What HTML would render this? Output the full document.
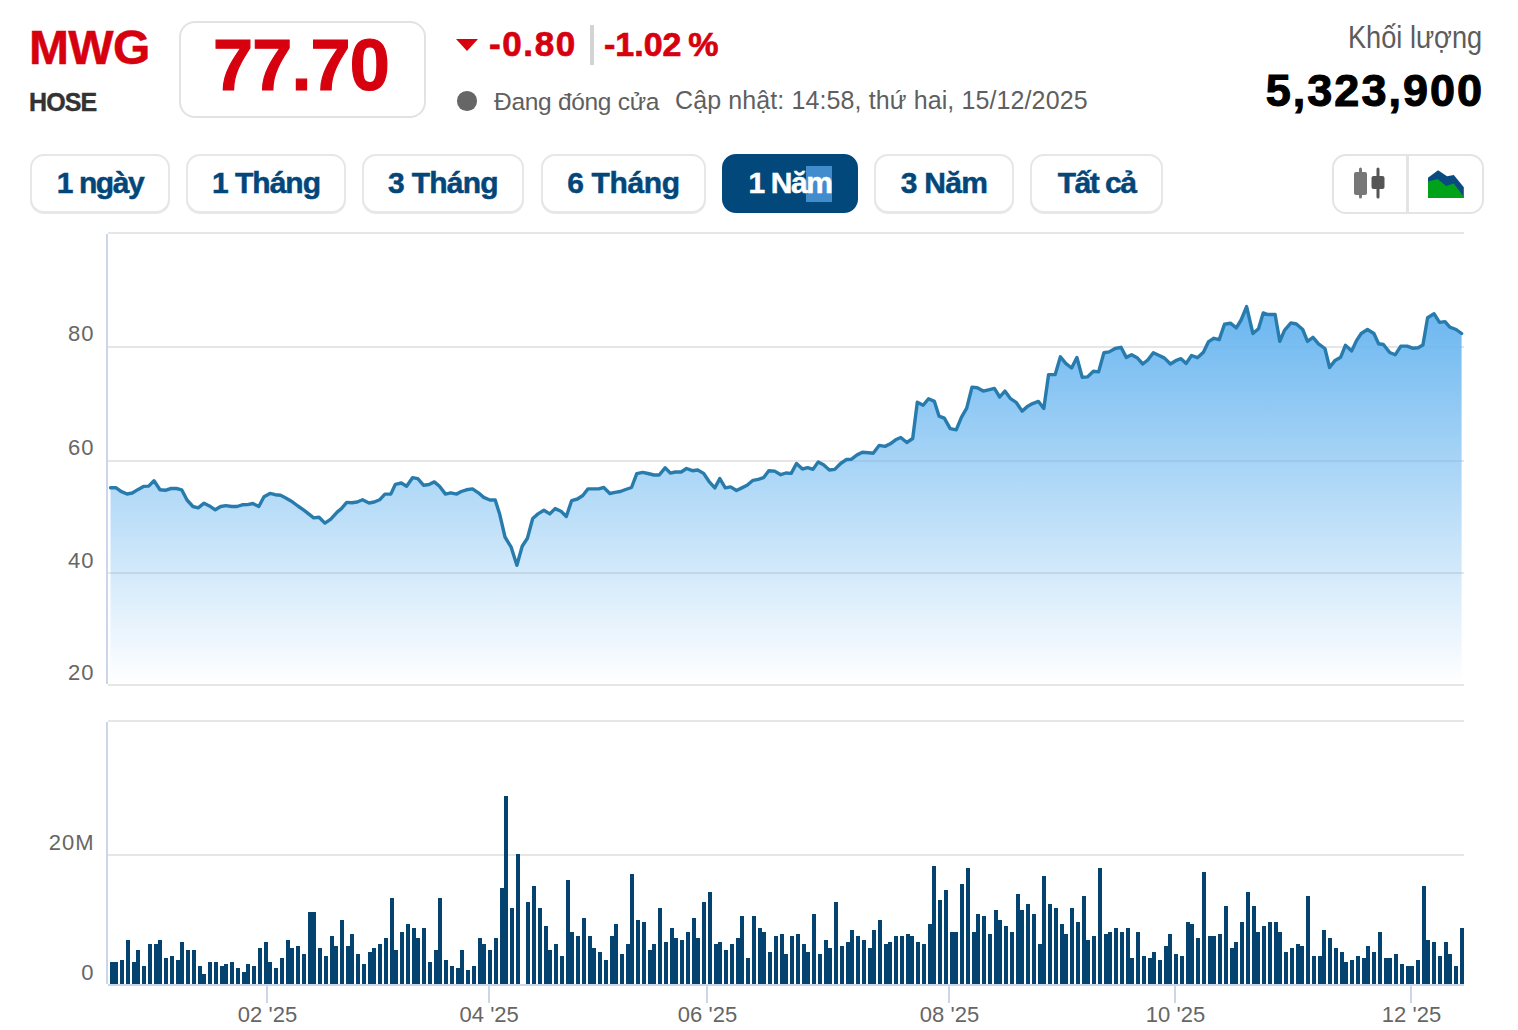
<!DOCTYPE html>
<html lang="vi"><head><meta charset="utf-8"><title>MWG</title>
<style>
*{box-sizing:border-box;margin:0;padding:0}
html,body{width:1518px;height:1030px;background:#fff;overflow:hidden}
body{position:relative;font-family:"Liberation Sans",Arial,sans-serif}
.abs{position:absolute;white-space:nowrap}
.chart{position:absolute;left:0;top:0}
#sym{left:29px;top:18px;font-size:48px;font-weight:700;color:#d6000f;line-height:60px;letter-spacing:-0.7px;-webkit-text-stroke:0.5px #d6000f}
#exch{left:29px;top:86px;font-size:25px;font-weight:700;color:#333;line-height:32px;letter-spacing:-0.9px;-webkit-text-stroke:0.4px #333}
#pbox{left:179px;top:21px;width:247px;height:97px;border:2px solid #e2e2e2;border-radius:16px}
#price{left:177.5px;top:17px;width:247px;height:97px;text-align:center;font-size:72px;font-weight:700;color:#d6000f;line-height:97px;letter-spacing:-0.8px;-webkit-text-stroke:1.2px #d6000f}
#tri{left:456px;top:39px;width:0;height:0;border-left:11px solid transparent;border-right:11px solid transparent;border-top:12.5px solid #d6000f}
#chg{left:489px;top:24px;font-size:35px;font-weight:700;color:#d6000f;line-height:40px;letter-spacing:1.6px;-webkit-text-stroke:0.7px #d6000f}
#sep{left:590px;top:25px;width:4px;height:40px;background:#d4d4d4}
#pct{left:604px;top:24px;font-size:34px;font-weight:700;color:#d6000f;line-height:40px;-webkit-text-stroke:0.7px #d6000f}
#dot{left:457px;top:91px;width:19.5px;height:19.5px;border-radius:50%;background:#666}
#st{left:494px;top:85.5px;font-size:24.5px;color:#5f5f5f;line-height:32px;letter-spacing:-0.3px}
#upd{left:675px;top:84px;font-size:25px;color:#5f5f5f;line-height:32px;letter-spacing:0.11px}
#kl{right:36px;top:19.5px;font-size:31px;color:#5c5c5c;line-height:36px;transform:scaleX(0.876);transform-origin:right center}
#vol{right:34px;top:65px;font-size:45px;font-weight:700;color:#000;line-height:52px;letter-spacing:2px;-webkit-text-stroke:1.1px #000}
.btn{position:absolute;top:154px;height:58.5px;border:2px solid #e7e7e7;border-radius:14px;background:#fff;box-shadow:0 1px 0 #e9e9e9;font-size:30px;font-weight:700;color:#03477a;text-align:center;line-height:54px;white-space:nowrap;-webkit-text-stroke:0.5px currentColor}
.btn.on{background:#03487b;border-color:#03487b;color:#fff;box-shadow:none}
.selbg{position:absolute;left:82px;top:10px;width:26px;height:36px;background:#408ccd}
#grp{position:absolute;left:1332px;top:154px;width:152px;height:60px;border:2px solid #e4e4e4;border-radius:14px}
#gsep{position:absolute;left:1406px;top:155px;width:3px;height:58px;background:#e4e4e4}
</style></head><body>
<svg class="chart" width="1518" height="1030" viewBox="0 0 1518 1030">
<defs>
<linearGradient id="ag" x1="0" y1="306" x2="0" y2="685" gradientUnits="userSpaceOnUse">
<stop offset="0" stop-color="#6ab6f0" stop-opacity="1"/>
<stop offset="1" stop-color="#6ab6f0" stop-opacity="0"/>
</linearGradient>
</defs>
<g shape-rendering="crispEdges">
<rect x="108" y="232" width="1356" height="2" fill="#e6e6e6"/>
<rect x="108" y="346" width="1356" height="2" fill="#e6e6e6"/>
<rect x="108" y="460" width="1356" height="2" fill="#e6e6e6"/>
<rect x="108" y="572" width="1356" height="2" fill="#e6e6e6"/>
<rect x="108" y="684" width="1356" height="2" fill="#e6e6e6"/>
<rect x="106" y="234" width="2" height="450" fill="#ccd6eb"/>
<rect x="108" y="720" width="1356" height="2" fill="#e6e6e6"/>
<rect x="108" y="854" width="1356" height="2" fill="#e6e6e6"/>
<rect x="106" y="722" width="2" height="262" fill="#ccd6eb"/>
<rect x="108" y="984" width="1356" height="2" fill="#ccd6eb"/>
<rect x="266" y="986" width="2" height="17" fill="#ccd6eb"/>
<rect x="488" y="986" width="2" height="17" fill="#ccd6eb"/>
<rect x="706" y="986" width="2" height="17" fill="#ccd6eb"/>
<rect x="948" y="986" width="2" height="17" fill="#ccd6eb"/>
<rect x="1174" y="986" width="2" height="17" fill="#ccd6eb"/>
<rect x="1410" y="986" width="2" height="17" fill="#ccd6eb"/>
</g>
<path d="M110.5,685 L110.5,487.7 L115.8,487.7 L121,491.4 L127,494 L132.3,493 L138.2,489.4 L143.5,486.4 L148.7,486.1 L154,480.8 L160,489.8 L165.2,490.3 L171.1,488.5 L176.4,488.5 L181.7,489.8 L187,500 L192.9,506.5 L198.2,507.9 L204.1,503.2 L209.4,505.9 L215.3,509.8 L220.6,506.5 L225.8,505.6 L231.8,506.5 L237,506.5 L242.3,504.8 L247.6,504.6 L252.8,503.5 L258.8,506.5 L264,496.7 L270,493.4 L275.2,494.7 L280.5,495.3 L285.8,498 L291,500.9 L297.9,506 L304.5,510.6 L313.7,517.9 L319,517.2 L324.9,523.1 L330.8,519.2 L337.4,511.9 L341.4,508.6 L346.7,502.4 L351.9,502.7 L357.2,502 L362.5,499.8 L369,503 L374.3,502 L379.6,499.8 L384.9,494.1 L390.8,494.1 L395.4,484.3 L401.3,483 L406.6,486.2 L412.5,477.7 L417.8,478.7 L423.7,485.3 L429,484.5 L434.3,481.9 L439.5,486.2 L445.5,494.1 L450.7,492.8 L456.7,494.1 L461.3,491.5 L466.5,489.8 L472.5,488.9 L478.4,492.8 L483.7,497.4 L489.9,500 L495.2,500 L499.8,514.6 L505,537 L511,546.8 L516.9,565.3 L522.2,546.2 L527.4,538.3 L532.7,518.5 L538,513.9 L543.9,510.3 L549.8,513.9 L555.1,508.6 L561,511.3 L566.3,516.5 L571.6,500.7 L577.5,499 L582.8,495.5 L588,488.9 L593.3,488.9 L598.6,488.9 L603.8,487.5 L609.8,493.5 L615,492.4 L620.3,491.5 L625.6,489.5 L631.5,487.5 L636.8,473.7 L642.7,472.4 L648,473.5 L653.9,475 L659.2,475 L665.1,467.8 L670.4,473.1 L675.3,472 L681.2,472 L686.5,468.5 L692.4,470.7 L697.7,470 L703.6,473.4 L708.9,481.3 L714.8,487.9 L719.8,478.6 L725.3,487.9 L730.6,486.9 L736.5,490.5 L741.8,487.9 L747.1,485.2 L753,480.3 L758.3,479.3 L763.5,477.7 L768.8,470.7 L774.7,471.1 L780.7,474.7 L785.9,473 L791.2,473.4 L796.5,463.5 L802.4,469 L807.7,467.7 L813,469.4 L818.2,461.9 L823.5,464.8 L829.4,470 L834.7,469.4 L840.6,463.5 L846.5,459.5 L851.2,459.3 L857.1,454.9 L862.4,452.3 L868.6,452.7 L873.2,453.3 L879.1,445.4 L885,446.4 L890.3,443.8 L895.6,439.8 L900.8,437.5 L906.8,442.5 L912.7,438.5 L917.3,402.3 L923.2,405.3 L928.5,398.7 L934.4,401.4 L939,416.1 L944.3,418.1 L950.2,428.6 L956.2,429.9 L961.4,417.4 L966.7,408.2 L972,387.1 L977.3,387.8 L983.2,391.1 L988.5,389.8 L994.4,388.4 L999.7,397 L1004.9,391.1 L1010.2,398.3 L1016.1,402.3 L1022.1,411.1 L1027.3,406.6 L1032.6,403.6 L1038.5,401.4 L1043.8,408.5 L1048.6,374.6 L1055.2,374.6 L1060.4,356.8 L1065.7,363.4 L1071.6,368 L1076.9,357.4 L1082.2,377.2 L1087.4,376.9 L1093.4,371.3 L1098.6,371.9 L1103.9,352.8 L1109.2,351.9 L1115.1,348.5 L1121,347.3 L1126.3,357.4 L1131.6,354.8 L1137.5,358.1 L1142.8,364 L1148,359.8 L1153.3,352.8 L1159.2,355.5 L1164.5,358.1 L1170.4,364 L1175.7,360.7 L1181,358.7 L1186.2,363.4 L1191.5,355.5 L1197.4,357.7 L1203.4,352.2 L1208.6,341.6 L1213.9,338.3 L1219.2,339.6 L1224.5,324.2 L1230.4,323.2 L1236.3,327.9 L1241.1,320 L1246.6,306.6 L1252.9,333.5 L1258.5,328.7 L1263.2,312.9 L1267.9,314.5 L1275.1,314.5 L1279.8,341.4 L1284.5,330.3 L1290.9,322.9 L1296.4,324 L1302.7,329.5 L1307.5,341.4 L1313,337.4 L1318.5,343.8 L1324.9,348.5 L1329.6,367.5 L1335.1,360.4 L1340.7,357.2 L1345.4,345.3 L1351.7,350.9 L1356.5,340.6 L1361.2,333.5 L1367.5,329.5 L1373.9,333.5 L1378.6,343.8 L1383.4,344.5 L1389.7,352.5 L1395.2,354.8 L1400.8,346.1 L1407.1,346.1 L1412.6,348.2 L1418.1,347.7 L1422.9,345 L1427.6,317.7 L1434,313.7 L1439.5,322.4 L1445,321.6 L1449.8,327.2 L1456.1,329.5 L1461.6,333.5 L1461.6,685 Z" fill="url(#ag)"/>
<polyline points="110.5,487.7 115.8,487.7 121,491.4 127,494 132.3,493 138.2,489.4 143.5,486.4 148.7,486.1 154,480.8 160,489.8 165.2,490.3 171.1,488.5 176.4,488.5 181.7,489.8 187,500 192.9,506.5 198.2,507.9 204.1,503.2 209.4,505.9 215.3,509.8 220.6,506.5 225.8,505.6 231.8,506.5 237,506.5 242.3,504.8 247.6,504.6 252.8,503.5 258.8,506.5 264,496.7 270,493.4 275.2,494.7 280.5,495.3 285.8,498 291,500.9 297.9,506 304.5,510.6 313.7,517.9 319,517.2 324.9,523.1 330.8,519.2 337.4,511.9 341.4,508.6 346.7,502.4 351.9,502.7 357.2,502 362.5,499.8 369,503 374.3,502 379.6,499.8 384.9,494.1 390.8,494.1 395.4,484.3 401.3,483 406.6,486.2 412.5,477.7 417.8,478.7 423.7,485.3 429,484.5 434.3,481.9 439.5,486.2 445.5,494.1 450.7,492.8 456.7,494.1 461.3,491.5 466.5,489.8 472.5,488.9 478.4,492.8 483.7,497.4 489.9,500 495.2,500 499.8,514.6 505,537 511,546.8 516.9,565.3 522.2,546.2 527.4,538.3 532.7,518.5 538,513.9 543.9,510.3 549.8,513.9 555.1,508.6 561,511.3 566.3,516.5 571.6,500.7 577.5,499 582.8,495.5 588,488.9 593.3,488.9 598.6,488.9 603.8,487.5 609.8,493.5 615,492.4 620.3,491.5 625.6,489.5 631.5,487.5 636.8,473.7 642.7,472.4 648,473.5 653.9,475 659.2,475 665.1,467.8 670.4,473.1 675.3,472 681.2,472 686.5,468.5 692.4,470.7 697.7,470 703.6,473.4 708.9,481.3 714.8,487.9 719.8,478.6 725.3,487.9 730.6,486.9 736.5,490.5 741.8,487.9 747.1,485.2 753,480.3 758.3,479.3 763.5,477.7 768.8,470.7 774.7,471.1 780.7,474.7 785.9,473 791.2,473.4 796.5,463.5 802.4,469 807.7,467.7 813,469.4 818.2,461.9 823.5,464.8 829.4,470 834.7,469.4 840.6,463.5 846.5,459.5 851.2,459.3 857.1,454.9 862.4,452.3 868.6,452.7 873.2,453.3 879.1,445.4 885,446.4 890.3,443.8 895.6,439.8 900.8,437.5 906.8,442.5 912.7,438.5 917.3,402.3 923.2,405.3 928.5,398.7 934.4,401.4 939,416.1 944.3,418.1 950.2,428.6 956.2,429.9 961.4,417.4 966.7,408.2 972,387.1 977.3,387.8 983.2,391.1 988.5,389.8 994.4,388.4 999.7,397 1004.9,391.1 1010.2,398.3 1016.1,402.3 1022.1,411.1 1027.3,406.6 1032.6,403.6 1038.5,401.4 1043.8,408.5 1048.6,374.6 1055.2,374.6 1060.4,356.8 1065.7,363.4 1071.6,368 1076.9,357.4 1082.2,377.2 1087.4,376.9 1093.4,371.3 1098.6,371.9 1103.9,352.8 1109.2,351.9 1115.1,348.5 1121,347.3 1126.3,357.4 1131.6,354.8 1137.5,358.1 1142.8,364 1148,359.8 1153.3,352.8 1159.2,355.5 1164.5,358.1 1170.4,364 1175.7,360.7 1181,358.7 1186.2,363.4 1191.5,355.5 1197.4,357.7 1203.4,352.2 1208.6,341.6 1213.9,338.3 1219.2,339.6 1224.5,324.2 1230.4,323.2 1236.3,327.9 1241.1,320 1246.6,306.6 1252.9,333.5 1258.5,328.7 1263.2,312.9 1267.9,314.5 1275.1,314.5 1279.8,341.4 1284.5,330.3 1290.9,322.9 1296.4,324 1302.7,329.5 1307.5,341.4 1313,337.4 1318.5,343.8 1324.9,348.5 1329.6,367.5 1335.1,360.4 1340.7,357.2 1345.4,345.3 1351.7,350.9 1356.5,340.6 1361.2,333.5 1367.5,329.5 1373.9,333.5 1378.6,343.8 1383.4,344.5 1389.7,352.5 1395.2,354.8 1400.8,346.1 1407.1,346.1 1412.6,348.2 1418.1,347.7 1422.9,345 1427.6,317.7 1434,313.7 1439.5,322.4 1445,321.6 1449.8,327.2 1456.1,329.5 1461.6,333.5" fill="none" stroke="#287cad" stroke-width="3.4" stroke-linejoin="round" stroke-linecap="round"/>
<path d="M110,962h4v22h-4zM114,962h4v22h-4zM120,960h4v24h-4zM126,940h4v44h-4zM132,962h4v22h-4zM136,950h4v34h-4zM142,966h4v18h-4zM148,944h4v40h-4zM154,944h4v40h-4zM158,940h4v44h-4zM164,958h4v26h-4zM170,956h4v28h-4zM176,960h4v24h-4zM180,942h4v42h-4zM186,950h4v34h-4zM192,950h4v34h-4zM198,966h4v18h-4zM202,974h4v10h-4zM208,962h4v22h-4zM214,962h4v22h-4zM220,966h4v18h-4zM224,964h4v20h-4zM230,962h4v22h-4zM236,968h4v16h-4zM242,972h4v12h-4zM246,964h4v20h-4zM252,966h4v18h-4zM258,948h4v36h-4zM264,942h4v42h-4zM268,962h4v22h-4zM274,968h4v16h-4zM280,958h4v26h-4zM286,940h4v44h-4zM290,948h4v36h-4zM296,946h4v38h-4zM302,954h4v30h-4zM308,912h4v72h-4zM312,912h4v72h-4zM318,948h4v36h-4zM324,956h4v28h-4zM330,936h4v48h-4zM334,946h4v38h-4zM340,920h4v64h-4zM346,946h4v38h-4zM350,934h4v50h-4zM356,954h4v30h-4zM362,964h4v20h-4zM368,952h4v32h-4zM372,948h4v36h-4zM378,944h4v40h-4zM384,938h4v46h-4zM390,898h4v86h-4zM394,950h4v34h-4zM400,932h4v52h-4zM406,924h4v60h-4zM412,928h4v56h-4zM416,938h4v46h-4zM422,928h4v56h-4zM428,962h4v22h-4zM434,950h4v34h-4zM438,898h4v86h-4zM444,960h4v24h-4zM450,966h4v18h-4zM456,968h4v16h-4zM460,950h4v34h-4zM466,970h4v14h-4zM472,966h4v18h-4zM478,938h4v46h-4zM482,944h4v40h-4zM488,950h4v34h-4zM494,938h4v46h-4zM500,888h4v96h-4zM504,796h4v188h-4zM510,908h4v76h-4zM516,854h4v130h-4zM526,902h4v82h-4zM532,886h4v98h-4zM538,908h4v76h-4zM544,926h4v58h-4zM548,950h4v34h-4zM554,944h4v40h-4zM560,956h4v28h-4zM566,880h4v104h-4zM570,932h4v52h-4zM576,936h4v48h-4zM582,918h4v66h-4zM588,936h4v48h-4zM592,948h4v36h-4zM598,952h4v32h-4zM604,960h4v24h-4zM610,936h4v48h-4zM614,924h4v60h-4zM620,954h4v30h-4zM626,944h4v40h-4zM630,874h4v110h-4zM636,920h4v64h-4zM642,922h4v62h-4zM648,950h4v34h-4zM652,944h4v40h-4zM658,908h4v76h-4zM664,942h4v42h-4zM670,928h4v56h-4zM674,938h4v46h-4zM680,940h4v44h-4zM686,932h4v52h-4zM692,918h4v66h-4zM696,938h4v46h-4zM702,902h4v82h-4zM708,892h4v92h-4zM714,944h4v40h-4zM718,942h4v42h-4zM724,950h4v34h-4zM730,944h4v40h-4zM736,938h4v46h-4zM740,916h4v68h-4zM746,958h4v26h-4zM752,916h4v68h-4zM758,928h4v56h-4zM762,932h4v52h-4zM768,952h4v32h-4zM774,936h4v48h-4zM780,934h4v50h-4zM784,954h4v30h-4zM790,936h4v48h-4zM796,934h4v50h-4zM802,944h4v40h-4zM806,952h4v32h-4zM812,914h4v70h-4zM818,954h4v30h-4zM824,940h4v44h-4zM828,948h4v36h-4zM834,902h4v82h-4zM840,946h4v38h-4zM846,942h4v42h-4zM850,930h4v54h-4zM856,936h4v48h-4zM862,940h4v44h-4zM868,948h4v36h-4zM872,930h4v54h-4zM878,920h4v64h-4zM884,944h4v40h-4zM888,942h4v42h-4zM894,936h4v48h-4zM900,936h4v48h-4zM906,934h4v50h-4zM910,936h4v48h-4zM916,942h4v42h-4zM922,944h4v40h-4zM928,924h4v60h-4zM932,866h4v118h-4zM938,900h4v84h-4zM944,890h4v94h-4zM950,932h4v52h-4zM954,932h4v52h-4zM960,884h4v100h-4zM966,868h4v116h-4zM972,932h4v52h-4zM976,914h4v70h-4zM982,916h4v68h-4zM988,934h4v50h-4zM994,910h4v74h-4zM998,920h4v64h-4zM1004,926h4v58h-4zM1010,932h4v52h-4zM1016,894h4v90h-4zM1020,910h4v74h-4zM1026,904h4v80h-4zM1032,914h4v70h-4zM1038,944h4v40h-4zM1042,876h4v108h-4zM1048,904h4v80h-4zM1054,908h4v76h-4zM1060,924h4v60h-4zM1064,934h4v50h-4zM1070,908h4v76h-4zM1076,922h4v62h-4zM1082,896h4v88h-4zM1086,940h4v44h-4zM1092,936h4v48h-4zM1098,868h4v116h-4zM1104,934h4v50h-4zM1108,932h4v52h-4zM1114,928h4v56h-4zM1120,932h4v52h-4zM1126,928h4v56h-4zM1130,958h4v26h-4zM1136,932h4v52h-4zM1142,956h4v28h-4zM1148,958h4v26h-4zM1152,952h4v32h-4zM1158,960h4v24h-4zM1164,946h4v38h-4zM1168,934h4v50h-4zM1174,954h4v30h-4zM1180,956h4v28h-4zM1186,922h4v62h-4zM1190,924h4v60h-4zM1196,938h4v46h-4zM1202,872h4v112h-4zM1208,936h4v48h-4zM1212,936h4v48h-4zM1218,934h4v50h-4zM1224,906h4v78h-4zM1230,948h4v36h-4zM1234,942h4v42h-4zM1240,922h4v62h-4zM1246,892h4v92h-4zM1252,906h4v78h-4zM1256,932h4v52h-4zM1262,926h4v58h-4zM1268,922h4v62h-4zM1274,922h4v62h-4zM1278,932h4v52h-4zM1284,952h4v32h-4zM1290,948h4v36h-4zM1296,944h4v40h-4zM1300,946h4v38h-4zM1306,896h4v88h-4zM1312,956h4v28h-4zM1318,956h4v28h-4zM1322,930h4v54h-4zM1328,938h4v46h-4zM1334,948h4v36h-4zM1340,952h4v32h-4zM1344,962h4v22h-4zM1350,960h4v24h-4zM1356,956h4v28h-4zM1362,958h4v26h-4zM1366,946h4v38h-4zM1372,952h4v32h-4zM1378,932h4v52h-4zM1384,958h4v26h-4zM1388,958h4v26h-4zM1394,954h4v30h-4zM1400,964h4v20h-4zM1406,966h4v18h-4zM1410,966h4v18h-4zM1416,960h4v24h-4zM1422,886h4v98h-4zM1426,940h4v44h-4zM1432,942h4v42h-4zM1438,956h4v28h-4zM1444,942h4v42h-4zM1448,954h4v30h-4zM1454,966h4v18h-4zM1460,928h4v56h-4z" fill="#044270" shape-rendering="crispEdges"/>
<g font-family="Liberation Sans, Arial, sans-serif" font-size="22" fill="#666" text-anchor="end" letter-spacing="1">
<text x="94.5" y="341.3">80</text>
<text x="94.5" y="455.3">60</text>
<text x="94.5" y="567.6">40</text>
<text x="94.5" y="679.8">20</text>
<text x="94.5" y="850.2">20M</text>
<text x="94.5" y="979.8">0</text>
</g>
<g font-family="Liberation Sans, Arial, sans-serif" font-size="22" fill="#666" text-anchor="middle">
<text x="267.5" y="1021.6">02 '25</text>
<text x="489.2" y="1021.6">04 '25</text>
<text x="707.5" y="1021.6">06 '25</text>
<text x="949.5" y="1021.6">08 '25</text>
<text x="1175.5" y="1021.6">10 '25</text>
<text x="1411.5" y="1021.6">12 '25</text>
</g>
</svg>
<div id="sym" class="abs">MWG</div>
<div id="exch" class="abs">HOSE</div>
<div id="pbox" class="abs"></div>
<div id="price" class="abs">77.70</div>
<div id="tri" class="abs"></div>
<div id="chg" class="abs">-0.80</div>
<div id="sep" class="abs"></div>
<div id="pct" class="abs">-1.02&#8201;%</div>
<div id="dot" class="abs"></div>
<div id="st" class="abs">Đang đóng cửa</div>
<div id="upd" class="abs">Cập nhật: 14:58, thứ hai, 15/12/2025</div>
<div id="kl" class="abs">Khối lượng</div>
<div id="vol" class="abs">5,323,900</div>
<div class="btn" style="left:30px;width:140px;letter-spacing:-1.4px">1 ngày</div>
<div class="btn" style="left:186px;width:160px;letter-spacing:-1.0px">1 Tháng</div>
<div class="btn" style="left:362px;width:162px;letter-spacing:-0.75px">3 Tháng</div>
<div class="btn" style="left:541px;width:165px;letter-spacing:-0.38px">6 Tháng</div>
<div class="btn on" style="left:722px;width:136px;letter-spacing:-1.4px"><i class="selbg"></i><span style="position:relative">1 Năm</span></div>
<div class="btn" style="left:874px;width:140px;letter-spacing:-0.72px">3 Năm</div>
<div class="btn" style="left:1030px;width:133px;letter-spacing:-1.5px">Tất cả</div>
<div id="grp"></div>
<div id="gsep"></div>
<svg class="abs" style="left:1340px;top:160px" width="60" height="48" viewBox="1340 160 60 48">
<rect x="1359" y="167.5" width="3" height="31" rx="1.5" fill="#777"/>
<rect x="1354" y="172" width="13" height="23" rx="2" fill="#777"/>
<rect x="1376.5" y="167.5" width="3" height="31" rx="1.5" fill="#555"/>
<rect x="1371.5" y="176" width="13" height="13" rx="2" fill="#555"/>
</svg>
<svg class="abs" style="left:1420px;top:160px" width="56" height="48" viewBox="1420 160 56 48">
<path d="M1428,198 L1428,177.7 L1438.1,170.2 L1447,176.3 L1453.8,175.1 L1463.8,187.3 L1463.8,198 Z" fill="#0b4a7f"/>
<path d="M1428,198 L1428,181.5 L1437.7,179 L1446.3,185.9 L1453.8,183.6 L1463.4,196.5 L1463.8,198 Z" fill="#00a21a"/>
</svg>
</body></html>
